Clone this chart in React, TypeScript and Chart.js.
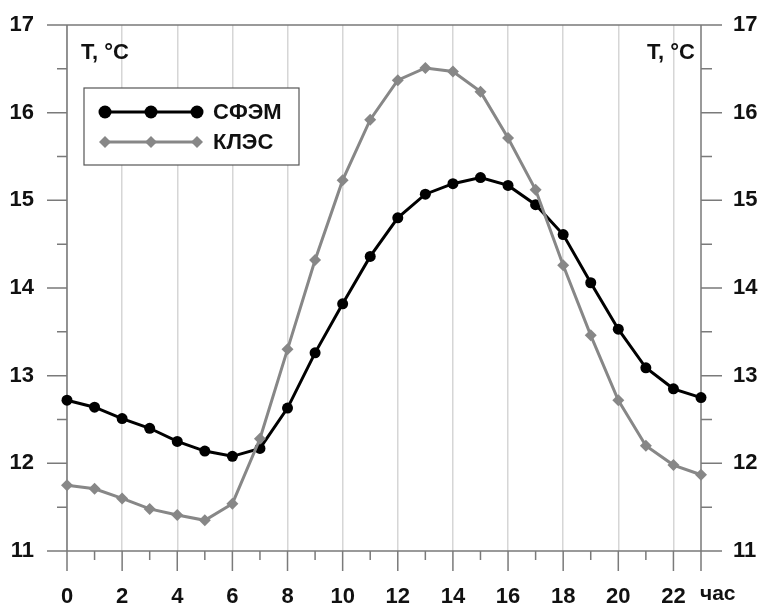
import React, { useEffect, useRef } from "react";
import { Chart, registerables } from "chart.js";

Chart.register(...registerables);

const hours = [0, 1, 2, 3, 4, 5, 6, 7, 8, 9, 10, 11, 12, 13, 14, 15, 16, 17, 18, 19, 20, 21, 22, 23];
const sfem = [12.72, 12.64, 12.51, 12.40, 12.25, 12.14, 12.08, 12.17, 12.63, 13.26, 13.82, 14.36, 14.80, 15.07, 15.19, 15.26, 15.17, 14.95, 14.61, 14.06, 13.53, 13.09, 12.85, 12.75];
const kles = [11.75, 11.71, 11.60, 11.48, 11.41, 11.35, 11.54, 12.28, 13.30, 14.32, 15.23, 15.92, 16.37, 16.51, 16.47, 16.24, 15.71, 15.12, 14.26, 13.46, 12.72, 12.20, 11.98, 11.87];
const seriesNames = ["СФЭМ", "КЛЭС"];
const yTitle = "T, °C";
const xUnit = "час";

const FONT = "'Liberation Sans', Arial, sans-serif";
const AXIS = "#7a7a7a";
const GRAY = "#878787";

const decor = {
  id: "decor",
  beforeDatasetsDraw(chart: any) {
    const { ctx, chartArea } = chart;
    const xs = chart.scales.x;
    const ys = chart.scales.y;
    const L = chartArea.left, R = chartArea.right, T = chartArea.top, B = chartArea.bottom;
    ctx.save();
    ctx.strokeStyle = AXIS;
    ctx.lineWidth = 1.5;
    ctx.beginPath();
    ctx.moveTo(L, T); ctx.lineTo(L, B);
    ctx.moveTo(R, T); ctx.lineTo(R, B);
    ctx.moveTo(L - 20, B); ctx.lineTo(R + 21, B);
    ctx.moveTo(L - 20, T); ctx.lineTo(R + 21, T);
    for (let v = 11; v <= 17; v += 0.5) {
      const y = ys.getPixelForValue(v);
      const major = Number.isInteger(v);
      const len = major ? 20 : 10;
      ctx.moveTo(L - len, y); ctx.lineTo(L, y);
      ctx.moveTo(R, y); ctx.lineTo(R + (major ? 21 : 11), y);
    }
    for (const h of hours) {
      const x = xs.getPixelForValue(h);
      const len = h % 2 === 0 || h === 23 ? 20 : 9;
      ctx.moveTo(x, B); ctx.lineTo(x, B + len);
    }
    ctx.stroke();
    ctx.restore();
  },
  afterDraw(chart: any) {
    const { ctx, chartArea } = chart;
    const L = chartArea.left, R = chartArea.right, B = chartArea.bottom;
    ctx.save();
    ctx.fillStyle = "#111";
    ctx.font = `bold 22px ${FONT}`;
    ctx.textBaseline = "middle";
    ctx.textAlign = "left";
    ctx.fillText(yTitle, L + 14, 53);
    ctx.textAlign = "right";
    ctx.fillText(yTitle, R - 6, 53);
    ctx.font = `bold 21px ${FONT}`;
    ctx.textAlign = "left";
    ctx.fillText(xUnit, R - 1, B + 43);

    const bx = 84, by = 88, bw = 215, bh = 77;
    ctx.fillStyle = "#fff";
    ctx.fillRect(bx, by, bw, bh);
    ctx.strokeStyle = "#555";
    ctx.lineWidth = 1.2;
    ctx.strokeRect(bx, by, bw, bh);
    const rows = [
      { y: 112, color: "#000", style: "circle", r: 6.5, lw: 3 },
      { y: 142, color: GRAY, style: "diamond", r: 6, lw: 3 },
    ];
    rows.forEach((row, i) => {
      ctx.strokeStyle = row.color;
      ctx.lineWidth = row.lw;
      ctx.beginPath();
      ctx.moveTo(105, row.y); ctx.lineTo(197, row.y);
      ctx.stroke();
      ctx.fillStyle = row.color;
      for (const mx of [105, 151, 197]) {
        ctx.beginPath();
        if (row.style === "circle") {
          ctx.arc(mx, row.y, row.r, 0, Math.PI * 2);
        } else {
          ctx.moveTo(mx, row.y - row.r);
          ctx.lineTo(mx + row.r, row.y);
          ctx.lineTo(mx, row.y + row.r);
          ctx.lineTo(mx - row.r, row.y);
          ctx.closePath();
        }
        ctx.fill();
      }
      ctx.fillStyle = "#111";
      ctx.font = `bold 22px ${FONT}`;
      ctx.textAlign = "left";
      ctx.textBaseline = "middle";
      ctx.fillText(seriesNames[i], 213, row.y + 1);
    });
    ctx.restore();
  },
};

export default function App() {
  const ref = useRef<HTMLCanvasElement>(null);
  useEffect(() => {
    if (!ref.current) return;
    const tickFont = { family: FONT, size: 22, weight: "bold" as const };
    const hiddenTicks = (len: number) => ({
      display: true,
      drawOnChartArea: false,
      drawTicks: true,
      tickLength: len,
      tickColor: "rgba(0,0,0,0)",
    });
    const chart = new Chart(ref.current, {
      type: "line",
      data: {
        datasets: [
          {
            label: seriesNames[1],
            data: hours.map((h, i) => ({ x: h, y: kles[i] })),
            borderColor: GRAY,
            backgroundColor: GRAY,
            borderWidth: 3,
            pointStyle: "rectRot",
            pointRadius: 6,
            pointBorderWidth: 0,
            tension: 0,
            clip: false as any,
            yAxisID: "y",
          },
          {
            label: seriesNames[0],
            data: hours.map((h, i) => ({ x: h, y: sfem[i] })),
            borderColor: "#000",
            backgroundColor: "#000",
            borderWidth: 3,
            pointStyle: "circle",
            pointRadius: 5.5,
            pointBorderWidth: 0,
            tension: 0,
            clip: false as any,
            yAxisID: "y",
          },
        ],
      },
      options: {
        responsive: false,
        animation: false,
        devicePixelRatio: 1,
        layout: { padding: { top: 25, left: 0, right: 0, bottom: 0 } },
        plugins: { legend: { display: false }, tooltip: { enabled: false } },
        scales: {
          x: {
            type: "linear",
            min: 0,
            max: 23,
            position: "bottom",
            afterFit: (s: any) => { s.height = 54; },
            border: { display: false },
            grid: {
              drawTicks: true,
              tickLength: 30,
              tickColor: "rgba(0,0,0,0)",
              color: (c: any) => (c.tick && c.tick.value % 2 === 0 ? "#d6d6d6" : "rgba(0,0,0,0)"),
              lineWidth: 1.5,
            },
            ticks: {
              stepSize: 1,
              autoSkip: false,
              maxRotation: 0,
              padding: 3,
              color: "#111",
              font: tickFont,
              callback: (v: any) => (Number(v) % 2 === 0 && Number(v) <= 22 ? String(v) : ""),
            },
          },
          y: {
            type: "linear",
            min: 11,
            max: 17,
            position: "left",
            afterFit: (s: any) => { s.width = 67; },
            border: { display: false },
            grid: hiddenTicks(30),
            ticks: { stepSize: 1, padding: 3, color: "#111", font: tickFont },
          },
          y2: {
            type: "linear",
            min: 11,
            max: 17,
            position: "right",
            afterFit: (s: any) => { s.width = 59; },
            border: { display: false },
            grid: hiddenTicks(29),
            ticks: { stepSize: 1, padding: 3, color: "#111", font: tickFont },
          },
        },
      },
      plugins: [decor],
    });
    return () => chart.destroy();
  }, []);
  return (
    <div style={{ position: "fixed", left: 0, top: 0, width: 760, height: 605, background: "#fff" }}>
      <canvas ref={ref} width={760} height={605} />
    </div>
  );
}
